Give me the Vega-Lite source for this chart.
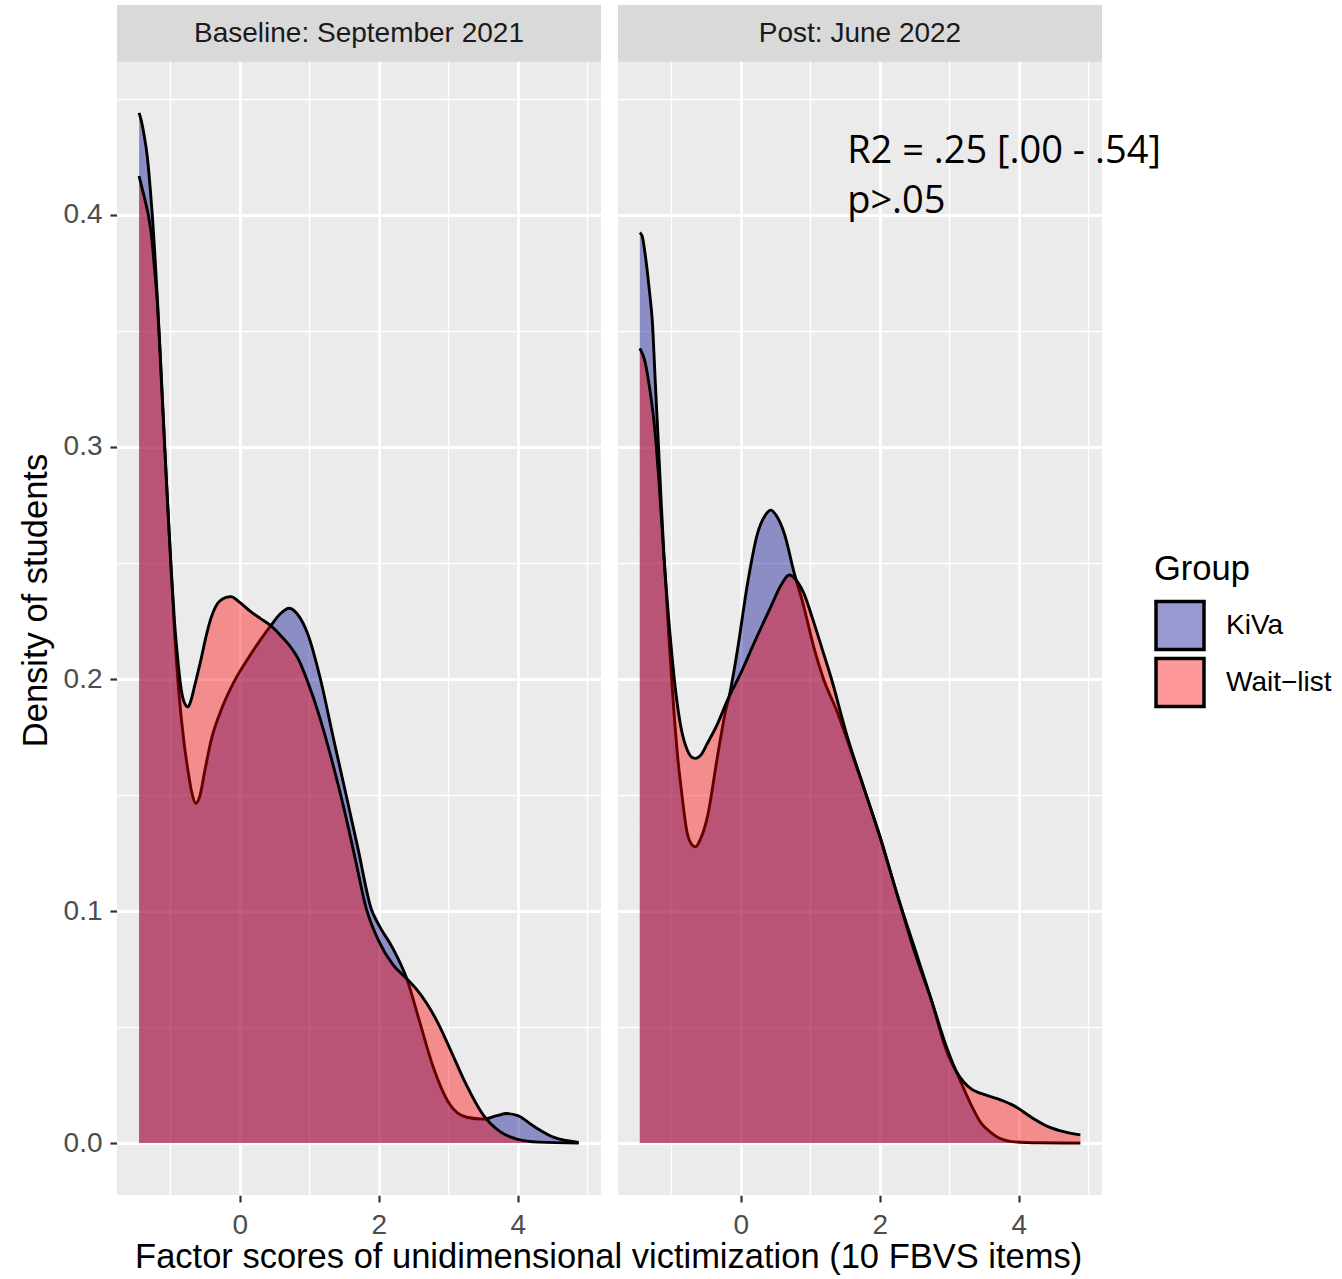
{
  "$schema": "https://vega.github.io/schema/vega-lite/v6.json",
  "background": "white",
  "padding": {"left": 18, "top": 5, "right": 5, "bottom": 5},
  "autosize": {"type": "pad"},
  "bounds": "flush",
  "title": {
    "text": "Factor scores of unidimensional victimization (10 FBVS items)",
    "orient": "bottom", "anchor": "start", "frame": "bounds", "dx": 117,
    "font": "Liberation Sans", "fontSize": 34.5, "fontWeight": "normal", "color": "black",
    "offset": 2
  },
  "data": {"values": [
    {"panel": "Baseline: September 2021", "group": "KiVa", "x": -1.449, "density": 0.444},
    {"panel": "Baseline: September 2021", "group": "KiVa", "x": -1.42, "density": 0.441},
    {"panel": "Baseline: September 2021", "group": "KiVa", "x": -1.38, "density": 0.435},
    {"panel": "Baseline: September 2021", "group": "KiVa", "x": -1.33, "density": 0.425},
    {"panel": "Baseline: September 2021", "group": "KiVa", "x": -1.29, "density": 0.412},
    {"panel": "Baseline: September 2021", "group": "KiVa", "x": -1.256, "density": 0.399},
    {"panel": "Baseline: September 2021", "group": "KiVa", "x": -1.22, "density": 0.382},
    {"panel": "Baseline: September 2021", "group": "KiVa", "x": -1.184, "density": 0.363},
    {"panel": "Baseline: September 2021", "group": "KiVa", "x": -1.148, "density": 0.342},
    {"panel": "Baseline: September 2021", "group": "KiVa", "x": -1.112, "density": 0.320},
    {"panel": "Baseline: September 2021", "group": "KiVa", "x": -1.076, "density": 0.298},
    {"panel": "Baseline: September 2021", "group": "KiVa", "x": -1.04, "density": 0.277},
    {"panel": "Baseline: September 2021", "group": "KiVa", "x": -0.99, "density": 0.248},
    {"panel": "Baseline: September 2021", "group": "KiVa", "x": -0.94, "density": 0.221},
    {"panel": "Baseline: September 2021", "group": "KiVa", "x": -0.873, "density": 0.193},
    {"panel": "Baseline: September 2021", "group": "KiVa", "x": -0.80, "density": 0.172},
    {"panel": "Baseline: September 2021", "group": "KiVa", "x": -0.753, "density": 0.162},
    {"panel": "Baseline: September 2021", "group": "KiVa", "x": -0.69, "density": 0.151},
    {"panel": "Baseline: September 2021", "group": "KiVa", "x": -0.633, "density": 0.1464},
    {"panel": "Baseline: September 2021", "group": "KiVa", "x": -0.58, "density": 0.149},
    {"panel": "Baseline: September 2021", "group": "KiVa", "x": -0.50, "density": 0.161},
    {"panel": "Baseline: September 2021", "group": "KiVa", "x": -0.417, "density": 0.173},
    {"panel": "Baseline: September 2021", "group": "KiVa", "x": -0.25, "density": 0.188},
    {"panel": "Baseline: September 2021", "group": "KiVa", "x": -0.08, "density": 0.199},
    {"panel": "Baseline: September 2021", "group": "KiVa", "x": 0.1, "density": 0.208},
    {"panel": "Baseline: September 2021", "group": "KiVa", "x": 0.3, "density": 0.217},
    {"panel": "Baseline: September 2021", "group": "KiVa", "x": 0.446, "density": 0.223},
    {"panel": "Baseline: September 2021", "group": "KiVa", "x": 0.58, "density": 0.228},
    {"panel": "Baseline: September 2021", "group": "KiVa", "x": 0.709, "density": 0.2305},
    {"panel": "Baseline: September 2021", "group": "KiVa", "x": 0.855, "density": 0.2269},
    {"panel": "Baseline: September 2021", "group": "KiVa", "x": 0.974, "density": 0.2197},
    {"panel": "Baseline: September 2021", "group": "KiVa", "x": 1.16, "density": 0.200},
    {"panel": "Baseline: September 2021", "group": "KiVa", "x": 1.35, "density": 0.174},
    {"panel": "Baseline: September 2021", "group": "KiVa", "x": 1.53, "density": 0.150},
    {"panel": "Baseline: September 2021", "group": "KiVa", "x": 1.7, "density": 0.127},
    {"panel": "Baseline: September 2021", "group": "KiVa", "x": 1.89, "density": 0.101},
    {"panel": "Baseline: September 2021", "group": "KiVa", "x": 2.0, "density": 0.094},
    {"panel": "Baseline: September 2021", "group": "KiVa", "x": 2.2, "density": 0.084},
    {"panel": "Baseline: September 2021", "group": "KiVa", "x": 2.4, "density": 0.071},
    {"panel": "Baseline: September 2021", "group": "KiVa", "x": 2.59, "density": 0.052},
    {"panel": "Baseline: September 2021", "group": "KiVa", "x": 2.78, "density": 0.033},
    {"panel": "Baseline: September 2021", "group": "KiVa", "x": 3.02, "density": 0.0167},
    {"panel": "Baseline: September 2021", "group": "KiVa", "x": 3.265, "density": 0.0111},
    {"panel": "Baseline: September 2021", "group": "KiVa", "x": 3.506, "density": 0.0103},
    {"panel": "Baseline: September 2021", "group": "KiVa", "x": 3.7, "density": 0.0118},
    {"panel": "Baseline: September 2021", "group": "KiVa", "x": 3.84, "density": 0.0127},
    {"panel": "Baseline: September 2021", "group": "KiVa", "x": 4.0, "density": 0.0118},
    {"panel": "Baseline: September 2021", "group": "KiVa", "x": 4.23, "density": 0.0072},
    {"panel": "Baseline: September 2021", "group": "KiVa", "x": 4.52, "density": 0.0024},
    {"panel": "Baseline: September 2021", "group": "KiVa", "x": 4.875, "density": 0.0003},

    {"panel": "Baseline: September 2021", "group": "Wait−list", "x": -1.449, "density": 0.4168},
    {"panel": "Baseline: September 2021", "group": "Wait−list", "x": -1.41, "density": 0.412},
    {"panel": "Baseline: September 2021", "group": "Wait−list", "x": -1.36, "density": 0.406},
    {"panel": "Baseline: September 2021", "group": "Wait−list", "x": -1.31, "density": 0.399},
    {"panel": "Baseline: September 2021", "group": "Wait−list", "x": -1.27, "density": 0.391},
    {"panel": "Baseline: September 2021", "group": "Wait−list", "x": -1.23, "density": 0.378},
    {"panel": "Baseline: September 2021", "group": "Wait−list", "x": -1.184, "density": 0.361},
    {"panel": "Baseline: September 2021", "group": "Wait−list", "x": -1.148, "density": 0.341},
    {"panel": "Baseline: September 2021", "group": "Wait−list", "x": -1.112, "density": 0.319},
    {"panel": "Baseline: September 2021", "group": "Wait−list", "x": -1.076, "density": 0.297},
    {"panel": "Baseline: September 2021", "group": "Wait−list", "x": -1.04, "density": 0.276},
    {"panel": "Baseline: September 2021", "group": "Wait−list", "x": -0.99, "density": 0.249},
    {"panel": "Baseline: September 2021", "group": "Wait−list", "x": -0.94, "density": 0.225},
    {"panel": "Baseline: September 2021", "group": "Wait−list", "x": -0.897, "density": 0.21},
    {"panel": "Baseline: September 2021", "group": "Wait−list", "x": -0.85, "density": 0.197},
    {"panel": "Baseline: September 2021", "group": "Wait−list", "x": -0.80, "density": 0.190},
    {"panel": "Baseline: September 2021", "group": "Wait−list", "x": -0.744, "density": 0.188},
    {"panel": "Baseline: September 2021", "group": "Wait−list", "x": -0.70, "density": 0.191},
    {"panel": "Baseline: September 2021", "group": "Wait−list", "x": -0.65, "density": 0.197},
    {"panel": "Baseline: September 2021", "group": "Wait−list", "x": -0.561, "density": 0.208},
    {"panel": "Baseline: September 2021", "group": "Wait−list", "x": -0.48, "density": 0.219},
    {"panel": "Baseline: September 2021", "group": "Wait−list", "x": -0.417, "density": 0.226},
    {"panel": "Baseline: September 2021", "group": "Wait−list", "x": -0.273, "density": 0.234},
    {"panel": "Baseline: September 2021", "group": "Wait−list", "x": -0.13, "density": 0.2355},
    {"panel": "Baseline: September 2021", "group": "Wait−list", "x": 0.0, "density": 0.233},
    {"panel": "Baseline: September 2021", "group": "Wait−list", "x": 0.158, "density": 0.229},
    {"panel": "Baseline: September 2021", "group": "Wait−list", "x": 0.3, "density": 0.226},
    {"panel": "Baseline: September 2021", "group": "Wait−list", "x": 0.446, "density": 0.223},
    {"panel": "Baseline: September 2021", "group": "Wait−list", "x": 0.58, "density": 0.219},
    {"panel": "Baseline: September 2021", "group": "Wait−list", "x": 0.686, "density": 0.2155},
    {"panel": "Baseline: September 2021", "group": "Wait−list", "x": 0.855, "density": 0.2078},
    {"panel": "Baseline: September 2021", "group": "Wait−list", "x": 0.974, "density": 0.199},
    {"panel": "Baseline: September 2021", "group": "Wait−list", "x": 1.145, "density": 0.184},
    {"panel": "Baseline: September 2021", "group": "Wait−list", "x": 1.35, "density": 0.162},
    {"panel": "Baseline: September 2021", "group": "Wait−list", "x": 1.5, "density": 0.144},
    {"panel": "Baseline: September 2021", "group": "Wait−list", "x": 1.65, "density": 0.124},
    {"panel": "Baseline: September 2021", "group": "Wait−list", "x": 1.82, "density": 0.101},
    {"panel": "Baseline: September 2021", "group": "Wait−list", "x": 2.0, "density": 0.087},
    {"panel": "Baseline: September 2021", "group": "Wait−list", "x": 2.2, "density": 0.077},
    {"panel": "Baseline: September 2021", "group": "Wait−list", "x": 2.4, "density": 0.0709},
    {"panel": "Baseline: September 2021", "group": "Wait−list", "x": 2.55, "density": 0.066},
    {"panel": "Baseline: September 2021", "group": "Wait−list", "x": 2.7, "density": 0.0597},
    {"panel": "Baseline: September 2021", "group": "Wait−list", "x": 2.88, "density": 0.050},
    {"panel": "Baseline: September 2021", "group": "Wait−list", "x": 3.024, "density": 0.0406},
    {"panel": "Baseline: September 2021", "group": "Wait−list", "x": 3.265, "density": 0.0247},
    {"panel": "Baseline: September 2021", "group": "Wait−list", "x": 3.506, "density": 0.0119},
    {"panel": "Baseline: September 2021", "group": "Wait−list", "x": 3.75, "density": 0.0048},
    {"panel": "Baseline: September 2021", "group": "Wait−list", "x": 4.0, "density": 0.0016},
    {"panel": "Baseline: September 2021", "group": "Wait−list", "x": 4.3, "density": 0.0004},
    {"panel": "Baseline: September 2021", "group": "Wait−list", "x": 4.875, "density": 0.0},

    {"panel": "Post: June 2022", "group": "KiVa", "x": -1.453, "density": 0.3924},
    {"panel": "Post: June 2022", "group": "KiVa", "x": -1.42, "density": 0.391},
    {"panel": "Post: June 2022", "group": "KiVa", "x": -1.38, "density": 0.384},
    {"panel": "Post: June 2022", "group": "KiVa", "x": -1.347, "density": 0.3763},
    {"panel": "Post: June 2022", "group": "KiVa", "x": -1.31, "density": 0.366},
    {"panel": "Post: June 2022", "group": "KiVa", "x": -1.274, "density": 0.3547},
    {"panel": "Post: June 2022", "group": "KiVa", "x": -1.227, "density": 0.326},
    {"panel": "Post: June 2022", "group": "KiVa", "x": -1.179, "density": 0.2973},
    {"panel": "Post: June 2022", "group": "KiVa", "x": -1.143, "density": 0.275},
    {"panel": "Post: June 2022", "group": "KiVa", "x": -1.107, "density": 0.2542},
    {"panel": "Post: June 2022", "group": "KiVa", "x": -1.07, "density": 0.236},
    {"panel": "Post: June 2022", "group": "KiVa", "x": -1.035, "density": 0.218},
    {"panel": "Post: June 2022", "group": "KiVa", "x": -0.962, "density": 0.186},
    {"panel": "Post: June 2022", "group": "KiVa", "x": -0.90, "density": 0.164},
    {"panel": "Post: June 2022", "group": "KiVa", "x": -0.866, "density": 0.155},
    {"panel": "Post: June 2022", "group": "KiVa", "x": -0.77, "density": 0.1335},
    {"panel": "Post: June 2022", "group": "KiVa", "x": -0.70, "density": 0.1285},
    {"panel": "Post: June 2022", "group": "KiVa", "x": -0.649, "density": 0.1277},
    {"panel": "Post: June 2022", "group": "KiVa", "x": -0.58, "density": 0.131},
    {"panel": "Post: June 2022", "group": "KiVa", "x": -0.48, "density": 0.1406},
    {"panel": "Post: June 2022", "group": "KiVa", "x": -0.336, "density": 0.1665},
    {"panel": "Post: June 2022", "group": "KiVa", "x": -0.216, "density": 0.1866},
    {"panel": "Post: June 2022", "group": "KiVa", "x": -0.168, "density": 0.1924},
    {"panel": "Post: June 2022", "group": "KiVa", "x": -0.048, "density": 0.2125},
    {"panel": "Post: June 2022", "group": "KiVa", "x": 0.097, "density": 0.2412},
    {"panel": "Post: June 2022", "group": "KiVa", "x": 0.241, "density": 0.2628},
    {"panel": "Post: June 2022", "group": "KiVa", "x": 0.35, "density": 0.2705},
    {"panel": "Post: June 2022", "group": "KiVa", "x": 0.433, "density": 0.2728},
    {"panel": "Post: June 2022", "group": "KiVa", "x": 0.52, "density": 0.270},
    {"panel": "Post: June 2022", "group": "KiVa", "x": 0.625, "density": 0.2628},
    {"panel": "Post: June 2022", "group": "KiVa", "x": 0.77, "density": 0.2455},
    {"panel": "Post: June 2022", "group": "KiVa", "x": 0.90, "density": 0.232},
    {"panel": "Post: June 2022", "group": "KiVa", "x": 1.048, "density": 0.214},
    {"panel": "Post: June 2022", "group": "KiVa", "x": 1.19, "density": 0.200},
    {"panel": "Post: June 2022", "group": "KiVa", "x": 1.385, "density": 0.186},
    {"panel": "Post: June 2022", "group": "KiVa", "x": 1.53, "density": 0.1738},
    {"panel": "Post: June 2022", "group": "KiVa", "x": 1.77, "density": 0.153},
    {"panel": "Post: June 2022", "group": "KiVa", "x": 2.01, "density": 0.1315},
    {"panel": "Post: June 2022", "group": "KiVa", "x": 2.25, "density": 0.107},
    {"panel": "Post: June 2022", "group": "KiVa", "x": 2.49, "density": 0.085},
    {"panel": "Post: June 2022", "group": "KiVa", "x": 2.73, "density": 0.0627},
    {"panel": "Post: June 2022", "group": "KiVa", "x": 2.97, "density": 0.0389},
    {"panel": "Post: June 2022", "group": "KiVa", "x": 3.12, "density": 0.0294},
    {"panel": "Post: June 2022", "group": "KiVa", "x": 3.31, "density": 0.0167},
    {"panel": "Post: June 2022", "group": "KiVa", "x": 3.455, "density": 0.0087},
    {"panel": "Post: June 2022", "group": "KiVa", "x": 3.6, "density": 0.0045},
    {"panel": "Post: June 2022", "group": "KiVa", "x": 3.7, "density": 0.0024},
    {"panel": "Post: June 2022", "group": "KiVa", "x": 3.94, "density": 0.0005},
    {"panel": "Post: June 2022", "group": "KiVa", "x": 4.3, "density": 0.0001},
    {"panel": "Post: June 2022", "group": "KiVa", "x": 4.885, "density": 0.0},

    {"panel": "Post: June 2022", "group": "Wait−list", "x": -1.453, "density": 0.3425},
    {"panel": "Post: June 2022", "group": "Wait−list", "x": -1.42, "density": 0.3405},
    {"panel": "Post: June 2022", "group": "Wait−list", "x": -1.38, "density": 0.337},
    {"panel": "Post: June 2022", "group": "Wait−list", "x": -1.347, "density": 0.332},
    {"panel": "Post: June 2022", "group": "Wait−list", "x": -1.30, "density": 0.323},
    {"panel": "Post: June 2022", "group": "Wait−list", "x": -1.251, "density": 0.3116},
    {"panel": "Post: June 2022", "group": "Wait−list", "x": -1.215, "density": 0.300},
    {"panel": "Post: June 2022", "group": "Wait−list", "x": -1.179, "density": 0.286},
    {"panel": "Post: June 2022", "group": "Wait−list", "x": -1.143, "density": 0.270},
    {"panel": "Post: June 2022", "group": "Wait−list", "x": -1.107, "density": 0.253},
    {"panel": "Post: June 2022", "group": "Wait−list", "x": -1.07, "density": 0.238},
    {"panel": "Post: June 2022", "group": "Wait−list", "x": -1.035, "density": 0.225},
    {"panel": "Post: June 2022", "group": "Wait−list", "x": -0.99, "density": 0.210},
    {"panel": "Post: June 2022", "group": "Wait−list", "x": -0.93, "density": 0.193},
    {"panel": "Post: June 2022", "group": "Wait−list", "x": -0.866, "density": 0.180},
    {"panel": "Post: June 2022", "group": "Wait−list", "x": -0.77, "density": 0.1694},
    {"panel": "Post: June 2022", "group": "Wait−list", "x": -0.70, "density": 0.1662},
    {"panel": "Post: June 2022", "group": "Wait−list", "x": -0.649, "density": 0.1658},
    {"panel": "Post: June 2022", "group": "Wait−list", "x": -0.58, "density": 0.167},
    {"panel": "Post: June 2022", "group": "Wait−list", "x": -0.48, "density": 0.1723},
    {"panel": "Post: June 2022", "group": "Wait−list", "x": -0.33, "density": 0.181},
    {"panel": "Post: June 2022", "group": "Wait−list", "x": -0.19, "density": 0.191},
    {"panel": "Post: June 2022", "group": "Wait−list", "x": 0.0, "density": 0.2025},
    {"panel": "Post: June 2022", "group": "Wait−list", "x": 0.19, "density": 0.2154},
    {"panel": "Post: June 2022", "group": "Wait−list", "x": 0.433, "density": 0.2312},
    {"panel": "Post: June 2022", "group": "Wait−list", "x": 0.58, "density": 0.2405},
    {"panel": "Post: June 2022", "group": "Wait−list", "x": 0.697, "density": 0.2448},
    {"panel": "Post: June 2022", "group": "Wait−list", "x": 0.80, "density": 0.2425},
    {"panel": "Post: June 2022", "group": "Wait−list", "x": 0.913, "density": 0.2365},
    {"panel": "Post: June 2022", "group": "Wait−list", "x": 1.048, "density": 0.2246},
    {"panel": "Post: June 2022", "group": "Wait−list", "x": 1.17, "density": 0.213},
    {"panel": "Post: June 2022", "group": "Wait−list", "x": 1.29, "density": 0.2015},
    {"panel": "Post: June 2022", "group": "Wait−list", "x": 1.53, "density": 0.1754},
    {"panel": "Post: June 2022", "group": "Wait−list", "x": 1.77, "density": 0.1532},
    {"panel": "Post: June 2022", "group": "Wait−list", "x": 2.01, "density": 0.131},
    {"panel": "Post: June 2022", "group": "Wait−list", "x": 2.25, "density": 0.1071},
    {"panel": "Post: June 2022", "group": "Wait−list", "x": 2.49, "density": 0.0833},
    {"panel": "Post: June 2022", "group": "Wait−list", "x": 2.73, "density": 0.0627},
    {"panel": "Post: June 2022", "group": "Wait−list", "x": 2.97, "density": 0.0405},
    {"panel": "Post: June 2022", "group": "Wait−list", "x": 3.1, "density": 0.031},
    {"panel": "Post: June 2022", "group": "Wait−list", "x": 3.21, "density": 0.0262},
    {"panel": "Post: June 2022", "group": "Wait−list", "x": 3.33, "density": 0.023},
    {"panel": "Post: June 2022", "group": "Wait−list", "x": 3.455, "density": 0.0214},
    {"panel": "Post: June 2022", "group": "Wait−list", "x": 3.7, "density": 0.019},
    {"panel": "Post: June 2022", "group": "Wait−list", "x": 3.94, "density": 0.0159},
    {"panel": "Post: June 2022", "group": "Wait−list", "x": 4.18, "density": 0.0111},
    {"panel": "Post: June 2022", "group": "Wait−list", "x": 4.42, "density": 0.0071},
    {"panel": "Post: June 2022", "group": "Wait−list", "x": 4.66, "density": 0.0048},
    {"panel": "Post: June 2022", "group": "Wait−list", "x": 4.885, "density": 0.0035},

    {"panel": "Post: June 2022", "note": "R2 = .25 [.00 - .54]", "x": 1.53, "density": 0.4224},
    {"panel": "Post: June 2022", "note": "p>.05", "x": 1.53, "density": 0.4009}
  ]},
  "facet": {
    "column": {"field": "panel", "type": "nominal", "title": null,
      "header": {"labels": false, "labelPadding": 0, "title": null, "titlePadding": 0}}
  },
  "spacing": {"column": 17},
  "spec": {
    "width": 484,
    "height": 1190,
    "layer": [
      {
        "transform": [{"aggregate": [{"op": "count", "as": "n"}], "groupby": ["panel"]}],
        "mark": {"type": "rect", "fill": "#d9d9d9"},
        "encoding": {
          "x": {"datum": -1.7665, "type": "quantitative", "title": null},
          "x2": {"datum": 5.1965},
          "y": {"datum": 0.4660, "type": "quantitative", "title": "Density of students"},
          "y2": {"datum": 0.4905}
        }
      },
      {
        "transform": [{"aggregate": [{"op": "count", "as": "n"}], "groupby": ["panel"]}],
        "mark": {"type": "text", "fontSize": 28, "color": "#1a1a1a", "align": "center", "baseline": "middle", "font": "Liberation Sans"},
        "encoding": {
          "x": {"datum": 1.715, "type": "quantitative", "title": null},
          "y": {"datum": 0.4782, "type": "quantitative", "title": "Density of students"},
          "text": {"field": "panel"}
        }
      },
      {
        "transform": [{"filter": "datum.group === 'KiVa'"}],
        "mark": {"type": "area", "interpolate": "monotone", "fillOpacity": 0.4, "strokeWidth": 0},
        "encoding": {
          "x": {"field": "x", "type": "quantitative",
            "title": null,
            "scale": {"domain": [-1.7665, 5.1965], "nice": false, "zero": false},
            "axis": {
              "title": null,
              "values": [-1, 0, 1, 2, 3, 4, 5],
              "labelExpr": "datum.value % 2 === 0 ? '' + datum.value : ''",
              "grid": true,
              "gridColor": "white",
              "gridWidth": {"condition": {"test": "datum.value % 2 !== 0", "value": 1.4}, "value": 2.8},
              "tickOpacity": {"condition": {"test": "datum.value % 2 !== 0", "value": 0}, "value": 1},
              "domain": false,
              "tickColor": "#333333", "tickWidth": 2.2, "tickSize": 7,
              "labelFontSize": 28, "labelColor": "#4d4d4d", "labelPadding": 9,
              "labelOverlap": false, "labelFlush": false
            }
          },
          "y": {"field": "density", "type": "quantitative", "stack": null,
            "title": "Density of students",
            "scale": {"domain": [-0.0224, 0.4905], "nice": false, "zero": false},
            "axis": {
              "values": [0, 0.05, 0.1, 0.15, 0.2, 0.25, 0.3, 0.35, 0.4, 0.45],
              "labelExpr": "round(datum.value * 100) % 10 === 0 ? format(datum.value, '.1f') : ''",
              "grid": true,
              "gridColor": "white",
              "gridWidth": {"condition": {"test": "round(datum.value * 100) % 10 !== 0", "value": 1.4}, "value": 2.8},
              "tickOpacity": {"condition": {"test": "round(datum.value * 100) % 10 !== 0", "value": 0}, "value": 1},
              "domain": false,
              "tickColor": "#333333", "tickWidth": 2.2, "tickSize": 7,
              "labelFontSize": 28, "labelColor": "#4d4d4d", "labelPadding": 8,
              "labelOverlap": false, "labelFlush": false,
              "titleFontSize": 34.5, "titleFontWeight": "normal", "titleColor": "black", "titlePadding": 10
            }
          },
          "y2": {"datum": 0},
          "color": {"field": "group", "type": "nominal", "title": "Group",
            "scale": {"domain": ["KiVa", "Wait−list"], "range": ["#00008b", "#ff0000"]},
            "legend": {"encode": {"symbols": {"update": {"fillOpacity": {"value": 0.4}, "stroke": {"value": "black"}, "strokeWidth": {"value": 3.5}}}}}}
        }
      },
      {
        "transform": [{"filter": "datum.group === 'KiVa'"}],
        "mark": {"type": "line", "interpolate": "monotone", "color": "black", "strokeWidth": 2.9},
        "encoding": {
          "x": {"field": "x", "type": "quantitative", "title": null},
          "y": {"field": "density", "type": "quantitative", "title": "Density of students"}
        }
      },
      {
        "transform": [{"filter": "datum.group === 'Wait−list'"}],
        "mark": {"type": "area", "interpolate": "monotone", "fillOpacity": 0.4, "strokeWidth": 0},
        "encoding": {
          "x": {"field": "x", "type": "quantitative", "title": null},
          "y": {"field": "density", "type": "quantitative", "stack": null, "title": "Density of students"},
          "y2": {"datum": 0},
          "color": {"field": "group", "type": "nominal", "title": "Group"}
        }
      },
      {
        "transform": [{"filter": "datum.group === 'Wait−list'"}],
        "mark": {"type": "line", "interpolate": "monotone", "color": "black", "strokeWidth": 2.9},
        "encoding": {
          "x": {"field": "x", "type": "quantitative", "title": null},
          "y": {"field": "density", "type": "quantitative", "title": "Density of students"}
        }
      },
      {
        "transform": [{"filter": "datum.note"}],
        "mark": {"type": "text", "font": "Open Sans", "fontSize": 38, "align": "left", "baseline": "alphabetic", "color": "black"},
        "encoding": {
          "x": {"field": "x", "type": "quantitative", "title": null},
          "y": {"field": "density", "type": "quantitative", "title": "Density of students"},
          "text": {"field": "note"}
        }
      }
    ]
  },
  "config": {
    "font": "Liberation Sans",
    "view": {"fill": "#ebebeb", "stroke": null},
    "legend": {
      "orient": "none",
      "legendX": 1037,
      "legendY": 548,
      "padding": 0,
      "titleFontSize": 34.5,
      "titleFontWeight": "normal",
      "titleColor": "black",
      "titlePadding": 12,
      "labelFontSize": 28,
      "labelColor": "black",
      "labelOffset": 20,
      "symbolType": "square",
      "symbolSize": 2304,
      "symbolStrokeColor": "black",
      "symbolStrokeWidth": 3.5,
      "symbolOpacity": 1,
      "rowPadding": -7
    }
  }
}
